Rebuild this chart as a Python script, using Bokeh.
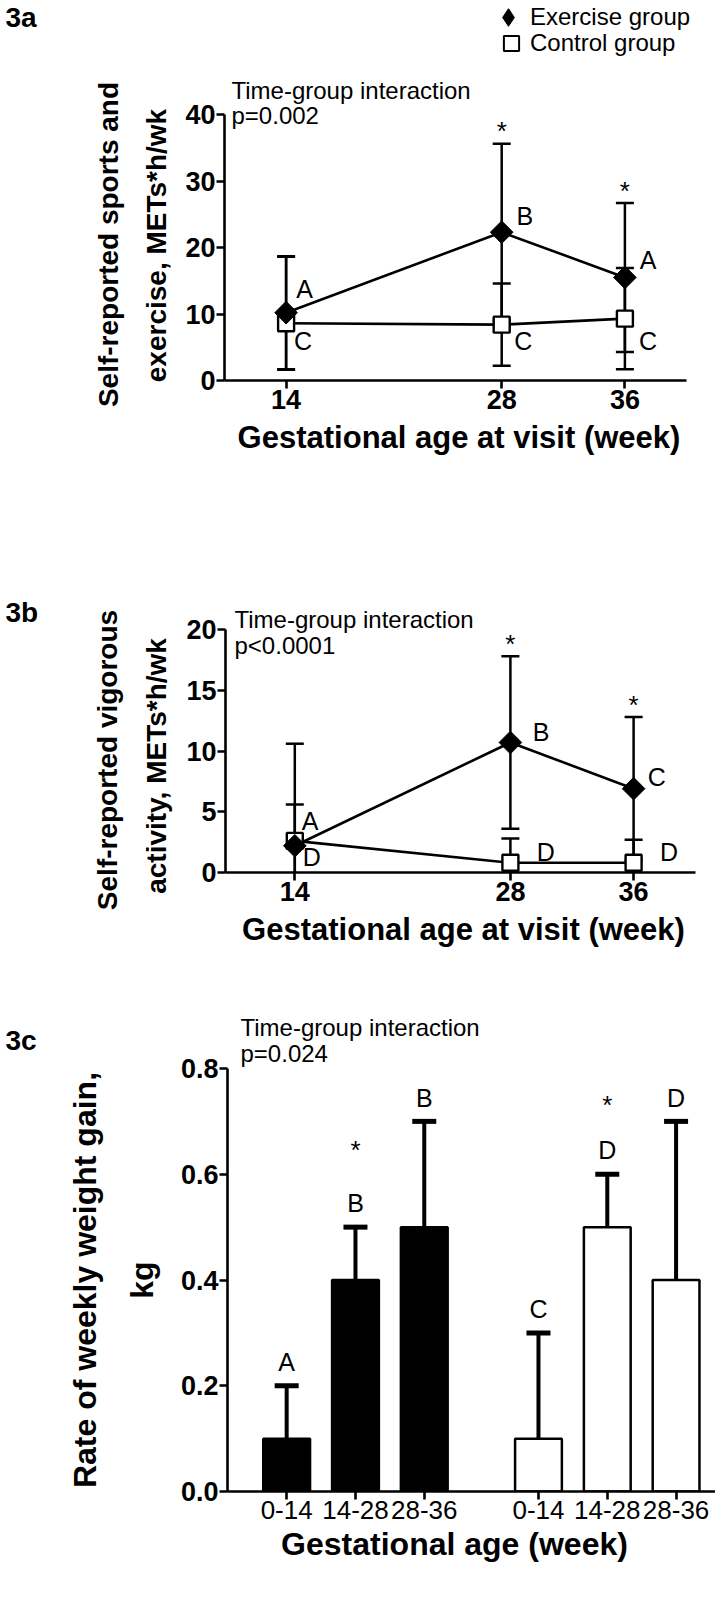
import math
from bokeh.plotting import figure
from bokeh.models import Range1d, Label, FixedTicker, Legend, LegendItem, Title
from bokeh.layouts import column, row
from bokeh.embed import file_html
from bokeh.resources import INLINE
from bokeh.core.properties import value

# ---------------- data ----------------
visit_weeks = [14, 28, 36]

a_ex_mean = [10.2, 22.3, 15.5]
a_ex_low = [1.7, 9.0, 4.3]
a_ex_high = [18.7, 35.6, 26.7]
a_ct_mean = [8.6, 8.4, 9.3]
a_ct_low = [1.6, 2.2, 1.7]
a_ct_high = [18.6, 14.6, 16.9]
a_ex_letters = ["A", "B", "A"]
a_ct_letters = ["C", "C", "C"]
a_star = ["", "*", "*"]

b_ex_mean = [2.2, 10.7, 6.9]
b_ex_low = [-6.2, 3.6, 1.0]
b_ex_high = [10.6, 17.8, 12.8]
b_ct_mean = [2.6, 0.8, 0.8]
b_ct_low = [-0.4, -1.2, -1.1]
b_ct_high = [5.6, 2.8, 2.7]
b_ex_letters = ["A", "B", "C"]
b_ct_letters = ["D", "D", "D"]
b_star = ["", "*", "*"]

c_periods = ["0-14", "14-28", "28-36"]
c_ex_mean = [0.1, 0.4, 0.5]
c_ex_sd = [0.1, 0.1, 0.2]
c_ct_mean = [0.1, 0.5, 0.4]
c_ct_sd = [0.2, 0.1, 0.3]
c_ex_letters = ["A", "B", "B"]
c_ct_letters = ["C", "D", "D"]
c_ex_star = ["", "*", ""]
c_ct_star = ["", "*", ""]

# ---------------- style ----------------
TOTAL_W = 715
SIDE_W = 40
FONT = "Liberation Sans"
TICK_PX = "27px"

# approximate advance widths (1/1000 em) of the bold sans face, used to place titles
BOLD_W = {" ": 278, ",": 278, "-": 333, "/": 278, "*": 389, "(": 333, ")": 333, "E": 667,
          "G": 778, "M": 833, "R": 722, "S": 667, "T": 611, "a": 556, "c": 556, "d": 611,
          "e": 556, "f": 333, "g": 611, "h": 611, "i": 278, "k": 556, "l": 278, "n": 611,
          "o": 611, "p": 611, "r": 389, "s": 556, "t": 333, "u": 611, "v": 556, "w": 778,
          "x": 556, "y": 556}


def bold_len(text, size):
    return sum(BOLD_W.get(ch, 556) for ch in text) * size / 1000.0


def side_fig(h, bottom):
    s = figure(width=SIDE_W, height=h, x_range=Range1d(0, SIDE_W), y_range=Range1d(bottom, 0),
               min_border_left=0, min_border_right=0, min_border_top=0, min_border_bottom=h - bottom,
               x_axis_type=None, y_axis_type=None, output_backend="svg", toolbar_location=None)
    s.outline_line_color = None
    s.background_fill_color = "white"
    s.border_fill_color = "white"
    return s


class Panel:
    def __init__(self, name, name_y, h, Lg, Rg, bottom, xr0, ppx, yr0, ppy, xbounds, ybounds,
                 xtitle, xtitle_px, ytitle, yt_px, yt_shift, axis_top, std_in, std_out,
                 xtitle_centre=None):
        self.Lg, self.bottom, self.xr0, self.ppx, self.yr0, self.ppy = Lg, bottom, xr0, ppx, yr0, ppy
        self.side = side_fig(h, bottom)
        self.side.add_layout(Label(x=5, y=name_y, text=name, text_font=FONT, text_font_size="28px",
                                   text_font_style="bold", text_baseline="middle", text_color="black"))
        fw = Rg - Lg
        p = figure(frame_width=fw, frame_height=bottom,
                   x_range=Range1d(xr0, xr0 + fw / ppx), y_range=Range1d(yr0, yr0 + bottom / ppy),
                   min_border_left=Lg - SIDE_W, min_border_right=TOTAL_W - Rg, min_border_top=0,
                   min_border_bottom=h - bottom, output_backend="svg", toolbar_location=None)
        p.xgrid.visible = False
        p.ygrid.visible = False
        p.outline_line_color = None
        p.background_fill_color = "white"
        p.border_fill_color = "white"
        for ax in (p.xaxis[0], p.yaxis[0]):
            ax.axis_line_width = 2.6
            ax.axis_line_color = "black"
            ax.major_tick_line_width = 2.6
            ax.major_tick_line_color = "black"
            ax.major_tick_in = 0
            ax.major_tick_out = 8
            ax.minor_tick_line_color = None
            ax.major_label_text_font = FONT
            ax.major_label_text_font_style = "bold"
            ax.major_label_text_font_size = TICK_PX
            ax.major_label_text_color = "black"
            ax.major_label_standoff = 1
        p.xaxis[0].bounds = xbounds
        p.yaxis[0].bounds = ybounds
        if xtitle_centre is None:
            p.xaxis[0].axis_label = xtitle
            p.xaxis[0].axis_label_text_font = FONT
            p.xaxis[0].axis_label_text_font_style = "bold"
            p.xaxis[0].axis_label_text_font_size = f"{xtitle_px}px"
            p.xaxis[0].axis_label_text_color = "black"
            p.xaxis[0].axis_label_standoff = 8
        else:
            off = xtitle_centre - bold_len(xtitle, xtitle_px) / 2.0 - Lg
            p.add_layout(Title(text=xtitle, align="left", offset=off, standoff=4,
                               text_font=FONT, text_font_size=f"{xtitle_px}px",
                               text_font_style="bold", text_color="black"), "below")
        # rotated two-line y title, centred on the drawn part of the y axis
        centre = (axis_top + bottom) / 2.0 + yt_shift
        for line, std in ((ytitle[1], std_in), (ytitle[0], std_out)):
            off = bottom - centre - bold_len(line, yt_px) / 2.0
            p.add_layout(Title(text=line, align="left", offset=off, standoff=std,
                               text_font=FONT, text_font_size=f"{yt_px}px",
                               text_font_style="bold", text_color="black"), "left")
        self.p = p

    def x(self, gx):
        return self.xr0 + (gx - self.Lg) / self.ppx

    def y(self, ly):
        return self.yr0 + (self.bottom - ly) / self.ppy

    def label(self, gx, ly, text, size):
        self.p.add_layout(Label(x=self.x(gx), y=self.y(ly), text=text, text_font=FONT,
                                text_font_size=f"{size}px", text_align="left",
                                text_baseline="middle", text_color="black"))


def texts(p, xs, ys, labels, size=25, y_offset=0):
    keep = [i for i, t in enumerate(labels) if t]
    p.text(x=[xs[i] for i in keep], y=[ys[i] for i in keep], text=[labels[i] for i in keep],
           text_font=value(FONT), text_font_size=f"{size}px", text_align="center",
           text_baseline="middle", text_color="black", y_offset=y_offset)


def line_panel(p, ex_mean, ex_low, ex_high, ct_mean, ct_low, ct_high, cap):
    xs = visit_weeks
    for lo, hi in ((ex_low, ex_high), (ct_low, ct_high)):
        p.segment(x0=xs, y0=lo, x1=xs, y1=hi, line_color="black", line_width=2.5)
        p.scatter(x=xs, y=hi, marker="dash", size=cap, line_color="black", line_width=2.5)
        p.scatter(x=xs, y=lo, marker="dash", size=cap, line_color="black", line_width=2.5)
    p.line(x=xs, y=ct_mean, line_color="black", line_width=2.6)
    p.line(x=xs, y=ex_mean, line_color="black", line_width=2.6)
    p.scatter(x=xs, y=ct_mean, marker="square", size=16, fill_color="white",
              line_color="black", line_width=2.4)
    p.scatter(x=xs, y=ex_mean, marker="square", angle=math.pi / 4, size=16,
              fill_color="black", line_color="black", line_width=1)


def shift(base, d):
    return [b + v for b, v in zip(base, d)]


# ================= panel 3a =================
A = Panel("3a", 17, h=500, Lg=224, Rg=693, bottom=380, xr0=10, ppx=15.4, yr0=0, ppy=6.65,
          xbounds=(10, 40), ybounds=(0, 40), xtitle="Gestational age at visit (week)", xtitle_px=31,
          ytitle=("Self-reported sports and", "exercise, METs*h/wk"), yt_px=28, yt_shift=-3,
          axis_top=114, std_in=22, std_out=8)
pa = A.p
pa.xaxis.ticker = FixedTicker(ticks=visit_weeks)
pa.yaxis.ticker = FixedTicker(ticks=[0, 10, 20, 30, 40])
line_panel(pa, a_ex_mean, a_ex_low, a_ex_high, a_ct_mean, a_ct_low, a_ct_high, 18)
texts(pa, shift(visit_weeks, [1.2, 1.5, 1.5]), shift(a_ex_mean, [3.6, 2.4, 2.6]), a_ex_letters)
texts(pa, shift(visit_weeks, [1.1, 1.4, 1.5]), shift(a_ct_mean, [-2.7, -2.5, -3.4]), a_ct_letters)
texts(pa, visit_weeks, [h + 2.6 for h in a_ex_high], a_star, size=26, y_offset=5)

leg_ex = pa.scatter(x=[-100], y=[-100], marker="diamond", size=10, fill_color="black", line_color="black")
leg_ct = pa.scatter(x=[-100], y=[-100], marker="square", size=10, fill_color="white",
                    line_color="black", line_width=2)
for item, glyph, row_y, left in ((LegendItem(label="Exercise group", renderers=[leg_ex]), 44, 17, 262),
                                 (LegendItem(label="Control group", renderers=[leg_ct]), 38, 43, 268)):
    pa.add_layout(Legend(items=[item], location=(left, 380 - (row_y - glyph // 2) - glyph),
                         glyph_width=glyph, glyph_height=glyph, padding=0, margin=0, label_standoff=0,
                         border_line_color=None, background_fill_alpha=0, label_text_font=FONT,
                         label_text_font_size="24px", label_text_color="black"))

A.label(231, 90, "Time-group interaction", 24)
A.label(231, 115, "p=0.002", 24)

# ================= panel 3b =================
B = Panel("3b", 112, h=480, Lg=225, Rg=701, bottom=372, xr0=9.5, ppx=15.4, yr0=0, ppy=12.15,
          xbounds=(9.5, 40), ybounds=(0, 20), xtitle="Gestational age at visit (week)", xtitle_px=31,
          ytitle=("Self-reported vigorous", "activity,  METs*h/wk"), yt_px=28, yt_shift=9,
          axis_top=129, std_in=24, std_out=8)
pb = B.p
pb.xaxis.ticker = FixedTicker(ticks=visit_weeks)
pb.yaxis.ticker = FixedTicker(ticks=[0, 5, 10, 15, 20])
line_panel(pb, b_ex_mean, b_ex_low, b_ex_high, b_ct_mean, b_ct_low, b_ct_high, 18)
texts(pb, shift(visit_weeks, [1.0, 2.0, 1.5]), shift(b_ex_mean, [2.0, 0.9, 1.0]), b_ex_letters)
texts(pb, shift(visit_weeks, [1.1, 2.3, 2.3]), shift(b_ct_mean, [-1.3, 0.9, 0.85]), b_ct_letters)
texts(pb, visit_weeks, [h + 1.4 for h in b_ex_high], b_star, size=26, y_offset=5)

B.label(234, 119, "Time-group interaction", 24)
B.label(234, 145, "p<0.0001", 24)

# ================= panel 3c =================
C = Panel("3c", 60, h=611, Lg=227, Rg=715, bottom=511, xr0=-0.86, ppx=68.8, yr0=0, ppy=528.75,
          xbounds=(-0.86, -0.86 + (715 - 227) / 68.8), ybounds=(0, 0.8),
          xtitle="Gestational age (week)", xtitle_px=32,
          ytitle=("Rate of weekly weight gain,", "kg"), yt_px=32, yt_shift=0,
          axis_top=88, std_in=36, std_out=2, xtitle_centre=454)
pc = C.p
ex_pos = [float(i) for i in range(len(c_periods))]
ct_pos = [i + 3.66 for i in range(len(c_periods))]
pc.xaxis.ticker = FixedTicker(ticks=ex_pos + ct_pos)
pc.xaxis.major_label_overrides = {t: lab for t, lab in zip(ex_pos + ct_pos, c_periods + c_periods)}
pc.xaxis.major_label_text_font_style = "normal"
pc.xaxis.major_label_text_font_size = "26px"
pc.yaxis.ticker = FixedTicker(ticks=[0, 0.2, 0.4, 0.6, 0.8])
pc.yaxis.major_label_overrides = {0: "0.0", 0.2: "0.2", 0.4: "0.4", 0.6: "0.6", 0.8: "0.8"}

for pos, mean, sd, fill in ((ex_pos, c_ex_mean, c_ex_sd, "black"), (ct_pos, c_ct_mean, c_ct_sd, "white")):
    tops = [m + s for m, s in zip(mean, sd)]
    pc.segment(x0=pos, y0=mean, x1=pos, y1=tops, line_color="black", line_width=4)
    pc.scatter(x=pos, y=tops, marker="dash", size=24, line_color="black", line_width=5)
    pc.vbar(x=pos, top=mean, width=0.68, fill_color=fill, line_color="black", line_width=2.5)

ex_tops = [m + s for m, s in zip(c_ex_mean, c_ex_sd)]
ct_tops = [m + s for m, s in zip(c_ct_mean, c_ct_sd)]
texts(pc, ex_pos, [t + 0.045 for t in ex_tops], c_ex_letters)
texts(pc, ct_pos, [t + 0.045 for t in ct_tops], c_ct_letters)
texts(pc, ex_pos, [t + 0.155 for t in ex_tops], c_ex_star, size=26, y_offset=5)
texts(pc, ct_pos, [t + 0.14 for t in ct_tops], c_ct_star, size=26, y_offset=5)

C.label(240, 47, "Time-group interaction", 24)
C.label(240, 73, "p=0.024", 24)

layout = column(row(A.side, pa), row(B.side, pb), row(C.side, pc))
open("out.html", "w").write(file_html(layout, INLINE))
